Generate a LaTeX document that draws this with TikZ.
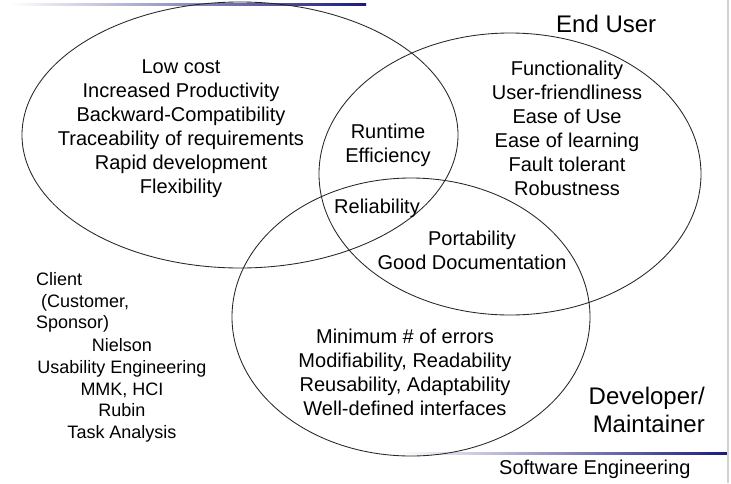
\documentclass[tikz,border=0pt]{standalone}
\usepackage{fontspec}
\setmainfont{Liberation Sans}
\begin{document}
\begin{tikzpicture}[x=1pt,y=-1pt,
  ring/.style={draw=black!85,line width=0.85pt},
  big/.style={inner sep=0pt,align=center,font=\fontsize{20}{24}\selectfont},
  small/.style={inner sep=0pt,align=center,font=\fontsize{18}{21.8}\selectfont},
  title/.style={inner sep=0pt,font=\fontsize{24}{28}\selectfont}]
\useasboundingbox (0,0) rectangle (731,483);
\fill[white] (0,0) rectangle (731,483);
% decorative rules
\shade[left color=white,right color=blue!45!black!90] (10,3) rectangle (366,5);
\shade[left color=white,right color=blue!45!black!90] (400,452) rectangle (727,454);
\fill[black!18] (727,0) rectangle (729,483);
% ellipses
\draw[ring] (240,135) ellipse [x radius=218, y radius=133];
\draw[ring] (510,174) ellipse [x radius=191, y radius=141];
\draw[ring] (411,317) ellipse [x radius=179, y radius=139];
% texts
\node[big] (client) at (181,129) {Low cost\\Increased Productivity\\Backward-Compatibility\\Traceability of requirements\\Rapid development\\Flexibility};
\node[big] (user) at (567,128) {Functionality\\User-friendliness\\Ease of Use\\Ease of learning\\Fault tolerant\\Robustness};
\node[big] (runtime) at (388,145) {Runtime\\Efficiency};
\node[big] (rel) at (377,208.5) {Reliability};
\node[big] (port) at (472,250) {Portability\\Good Documentation};
\node[big] (dev) at (405,372) {Minimum \# of errors\\Modifiability, Readability\\Reusability, Adaptability\\Well-defined interfaces};
\node[small,align=left,anchor=west] (clientlbl) at (36,302.5) {Client\\\ (Customer,\\Sponsor)};
\node[small] (refs) at (122,390.5) {Nielson\\Usability Engineering\\MMK, HCI\\Rubin\\Task Analysis};
\node[title,anchor=west] (enduser) at (556,24) {End User};
\node[title,align=right,anchor=east] (devlbl) at (705,410) {Developer/\\Maintainer};
\node[big,anchor=west] (se) at (499,469) {Software Engineering};
\end{tikzpicture}
\end{document}
